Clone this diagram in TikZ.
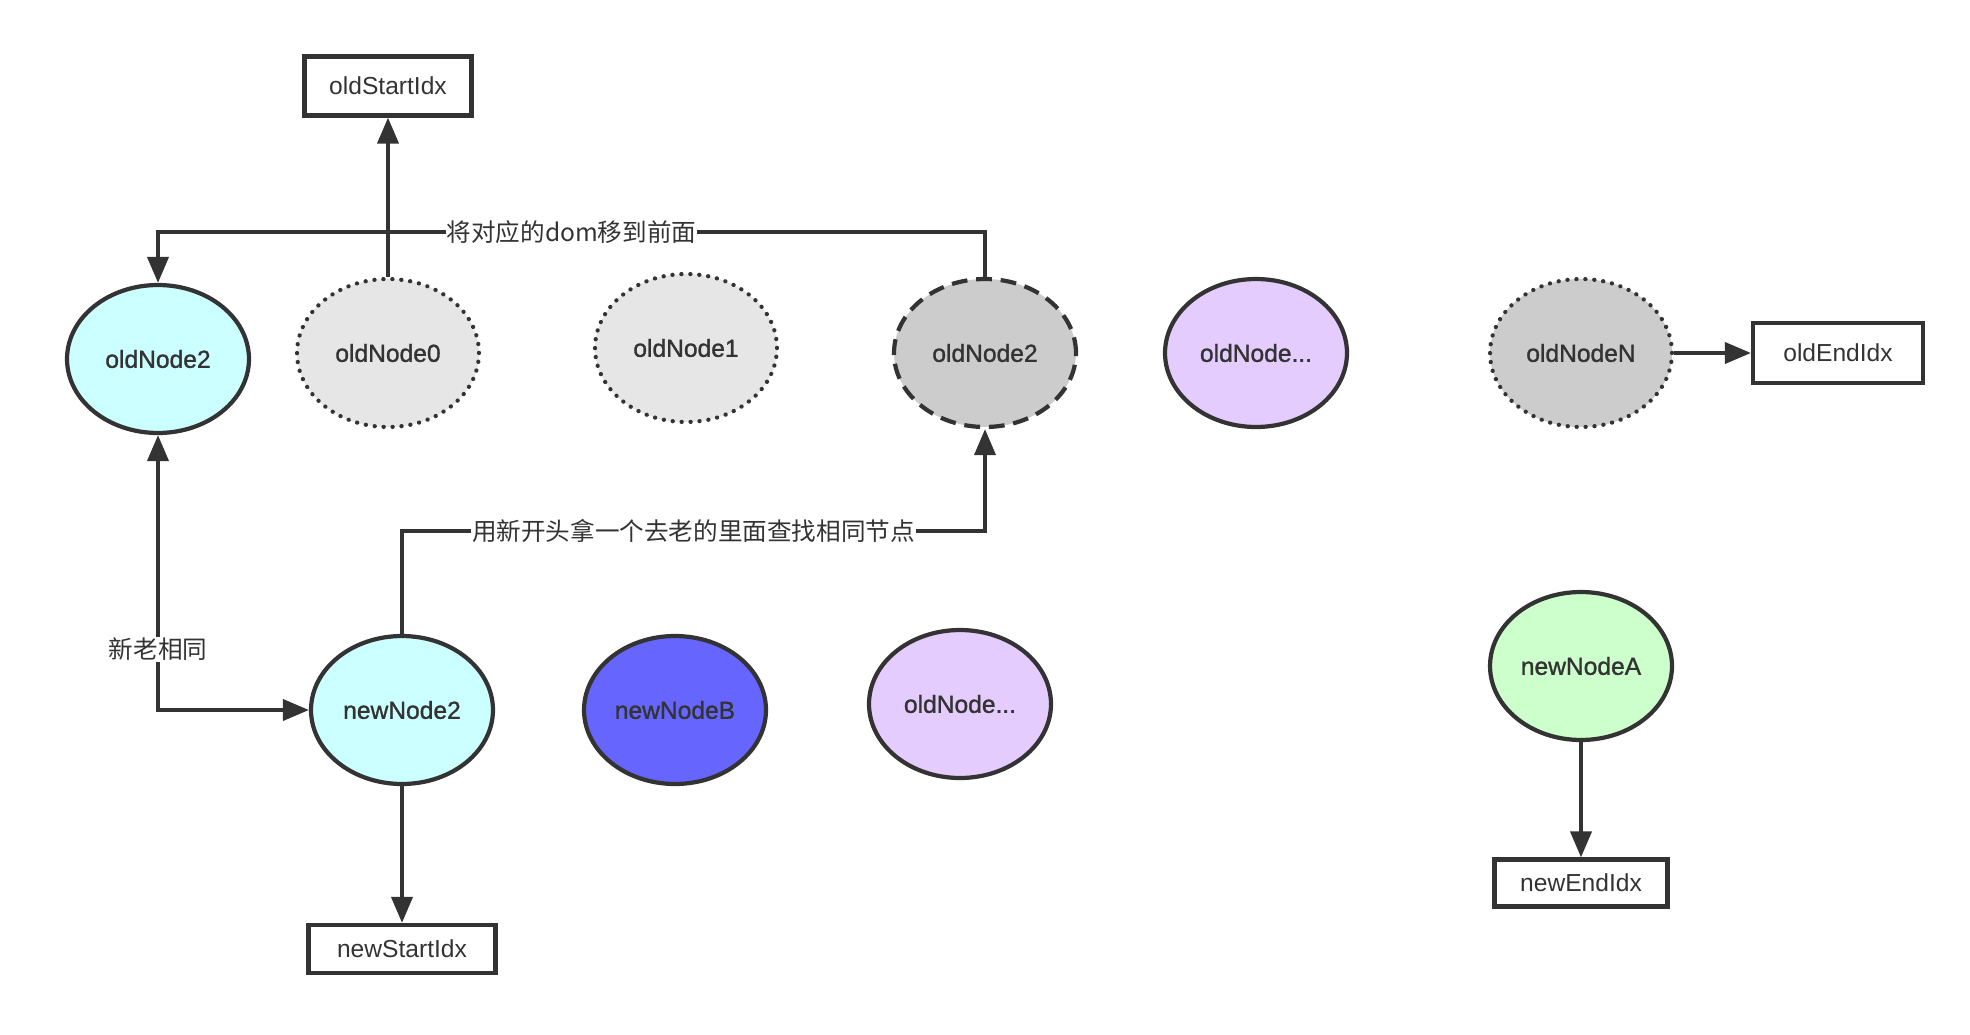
\documentclass[tikz,border=0pt]{standalone}
\usepackage{fontspec}
\setmainfont{Liberation Sans}
\newfontfamily\cjk{Noto Sans CJK SC}
\newfontfamily\medfont{Liberation Sans}[FakeBold=1.2]
\definecolor{dvline}{RGB}{51,51,51}
\definecolor{dvcyan}{RGB}{204,255,255}
\definecolor{dvgray}{RGB}{230,230,230}
\definecolor{dvdark}{RGB}{204,204,204}
\definecolor{dvpurple}{RGB}{229,204,255}
\definecolor{dvblue}{RGB}{102,102,255}
\definecolor{dvgreen}{RGB}{204,255,204}
\usetikzlibrary{arrows.meta,positioning,shapes.geometric}

\tikzset{
  vnode/.style={ellipse, draw=dvline, line width=2.4pt, minimum width=3.64cm, minimum height=2.96cm, inner sep=0pt, font=\medfont\fontsize{14}{16}\selectfont, text=dvline},
  idxbox/.style={rectangle, draw=dvline, line width=2.4pt, inner sep=0pt, font=\fontsize{14}{16}\selectfont, text=dvline},
  dotline/.style={dash pattern=on 0.1pt off 5pt, line cap=round},
  dashline/.style={dash pattern=on 9pt off 5pt},
  conn/.style={draw=dvline, line width=2.2pt},
  lbl/.style={fill=white, inner sep=0.5pt, font=\cjk\fontsize{14}{16}\selectfont, text=dvline},
  >={Triangle[length=0.52cm,width=0.42cm]}
}

\begin{document}
\begin{tikzpicture}[x=0.02cm, y=-0.02cm]
  \useasboundingbox (0,0) rectangle (1970,1034);

  %% old row
  \node[vnode, fill=dvcyan] (oldA) at (158,359) {oldNode2};
  \node[vnode, fill=dvgray, dotline] (old0) at (388,353) {oldNode0};
  \node[vnode, fill=dvgray, dotline] (old1) at (686,348) {oldNode1};
  \node[vnode, fill=dvdark, dashline] (oldB) at (985,353) {oldNode2};
  \node[vnode, fill=dvpurple] (oldM) at (1256,353) {oldNode...};
  \node[vnode, fill=dvdark, dotline] (oldN) at (1581,353) {oldNodeN};

  %% new row
  \node[vnode, fill=dvcyan] (new2) at (402,710) {newNode2};
  \node[vnode, fill=dvblue] (newB) at (675,710) {newNodeB};
  \node[vnode, fill=dvpurple] (newM) at (960,704) {oldNode...};
  \node[vnode, fill=dvgreen] (newA) at (1581,666) {newNodeA};

  %% index boxes
  \node[idxbox, minimum width=3.34cm, minimum height=1.18cm] (oldStart) at (388,86) {oldStartIdx};
  \node[idxbox, minimum width=3.4cm, minimum height=1.2cm] (oldEnd) at (1838,353) {oldEndIdx};
  \node[idxbox, minimum width=3.74cm, minimum height=0.96cm] (newStart) at (402,949) {newStartIdx};
  \node[idxbox, minimum width=3.46cm, minimum height=0.94cm] (newEnd) at (1581,883) {newEndIdx};

  \coordinate (moveRow) at (0,232);
  \coordinate (findRow) at (0,531);

  %% connectors
  \draw[conn, ->] (old0.north) -- (oldStart.south);
  \draw[conn, ->] (oldB.north) -- (oldB.north |- moveRow) -- node[lbl] {将对应的dom移到前面} (oldA.north |- moveRow) -- (oldA.north);
  \draw[conn, ->] (new2.north) -- (new2.north |- findRow) -- node[lbl] {用新开头拿一个去老的里面查找相同节点} (oldB.south |- findRow) -- (oldB.south);
  \draw[conn, <->] (oldA.south) -- node[lbl, pos=0.78] {新老相同} (oldA.south |- new2.west) -- (new2.west);
  \draw[conn, ->] (oldN.east) -- (oldEnd.west);
  \draw[conn, ->] (new2.south) -- (newStart.north);
  \draw[conn, ->] (newA.south) -- (newEnd.north);
\end{tikzpicture}
\end{document}
